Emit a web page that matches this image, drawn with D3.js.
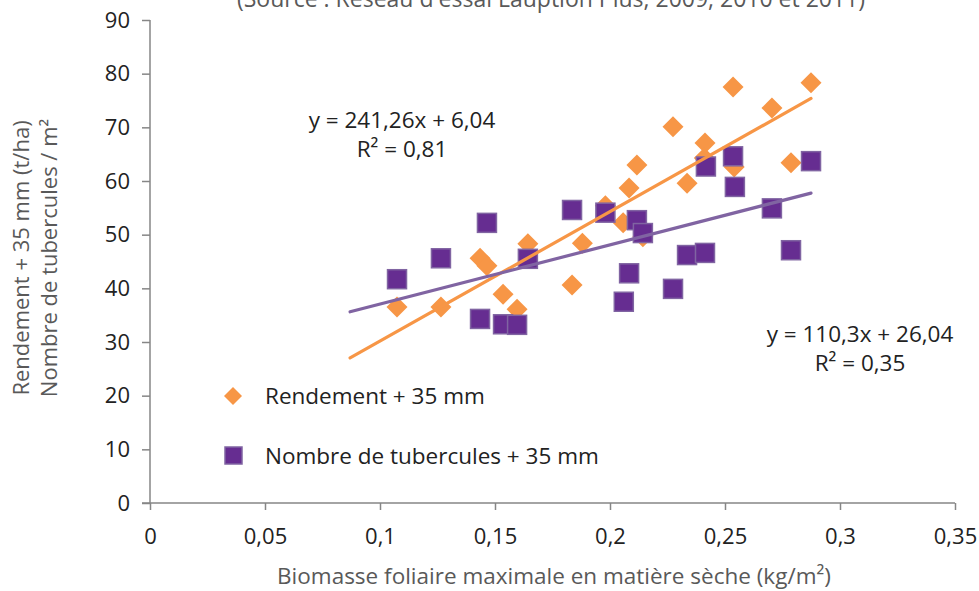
<!DOCTYPE html>
<html><head><meta charset="utf-8">
<script src="https://cdn.jsdelivr.net/npm/d3@7"></script>
<style>body{margin:0;background:#fff}svg{display:block}text{font-family:"Open Sans",sans-serif}</style>
</head><body><svg id="c" width="979" height="591"></svg>
<script>
const xTicks = [0,0.05,0.1,0.15,0.2,0.25,0.3,0.35];
const yTicks = [0,10,20,30,40,50,60,70,80,90];
const rendX = [0.1074,0.1265,0.1435,0.1465,0.1535,0.1596,0.1643,0.1835,0.188,0.198,0.2057,0.2083,0.2117,0.2143,0.2274,0.2335,0.2413,0.241,0.2535,0.254,0.2704,0.2787,0.2874];
const rendY = [36.5,36.5,45.6,44.2,38.9,36.1,48.3,40.6,48.4,55.4,52.2,58.7,63.0,49.6,70.1,59.6,67.1,64.3,77.5,62.6,73.6,63.4,78.3];
const tubX = [0.1074,0.1265,0.1435,0.1465,0.1535,0.1596,0.1643,0.1835,0.198,0.206,0.2083,0.2117,0.2143,0.2274,0.2335,0.2413,0.2417,0.2535,0.2543,0.2704,0.2787,0.2874];
const tubY = [41.7,45.6,34.3,52.2,33.3,33.2,45.5,54.6,54.1,37.5,42.8,52.7,50.3,39.9,46.2,46.6,62.7,64.6,58.9,54.9,47.1,63.7];
const trendRend = {slope:241.26, intercept:6.04, x0:0.087, x1:0.2874};
const trendTub = {slope:110.3, intercept:26.04, x0:0.087, x1:0.2874};
const fmt = v => String(v).replace('.', ',');

const svg = d3.select('#c');
const x = d3.scaleLinear().domain([0,0.35]).range([150,955]);
const y = d3.scaleLinear().domain([0,90]).range([503,20]);
const ORANGE = '#f79646', PURPLE = '#662d91', PURPLE_L = '#8064a2';

// Title (cut off at top, as in the reference)
svg.append('text').attr('x',551).attr('y',7).attr('text-anchor','middle')
  .attr('font-size',23).attr('fill','#595959')
  .text("(Source : Réseau d'essai Lauption Plus, 2009, 2010 et 2011)");

// Axes
const yAxis = svg.append('g').attr('transform','translate(150,0)')
  .call(d3.axisLeft(y).tickValues(yTicks).tickSize(8).tickPadding(12).tickFormat(fmt));
const xAxis = svg.append('g').attr('transform','translate(0,503)')
  .call(d3.axisBottom(x).tickValues(xTicks).tickSize(7).tickPadding(18).tickFormat(fmt));
[yAxis,xAxis].forEach(g=>{
  g.select('.domain').attr('stroke','#868686').attr('stroke-width',1.5);
  g.selectAll('.tick line').attr('stroke','#868686').attr('stroke-width',1.5);
  g.selectAll('.tick text').attr('fill','#222').attr('font-size',22).attr('font-family','"Open Sans",sans-serif');
});
yAxis.select('.domain').attr('d','M0,20V503');
xAxis.select('.domain').attr('d','M142,0H955');

// Axis titles
svg.append('text').attr('transform','translate(29,258) rotate(-90)').attr('text-anchor','middle')
  .attr('font-size',22).attr('fill','#595959').text('Rendement + 35 mm (t/ha)');
svg.append('text').attr('transform','translate(57,258) rotate(-90)').attr('text-anchor','middle')
  .attr('font-size',22).attr('fill','#595959').text('Nombre de tubercules / m²');
svg.append('text').attr('x',554).attr('y',584).attr('text-anchor','middle')
  .attr('font-size',22.5).attr('fill','#595959').text('Biomasse foliaire maximale en matière sèche (kg/m²)');

// Trend lines
function trend(t,color){
  svg.append('line').attr('x1',x(t.x0)).attr('y1',y(t.slope*t.x0+t.intercept))
    .attr('x2',x(t.x1)).attr('y2',y(t.slope*t.x1+t.intercept))
    .attr('stroke',color).attr('stroke-width',3.2).attr('stroke-linecap','round');
}

// Diamonds
const dsz = 10.5;
const diamond = (cx,cy)=>`M${cx},${cy-dsz}L${cx+dsz},${cy}L${cx},${cy+dsz}L${cx-dsz},${cy}Z`;
svg.append('g').selectAll('path').data(rendX.map((v,i)=>[v,rendY[i]])).join('path')
  .attr('d',d=>diamond(x(d[0]),y(d[1]))).attr('fill',ORANGE);
// Squares
const ssz = 19;
svg.append('g').selectAll('rect').data(tubX.map((v,i)=>[v,tubY[i]])).join('rect')
  .attr('x',d=>x(d[0])-ssz/2).attr('y',d=>y(d[1])-ssz/2).attr('width',ssz).attr('height',ssz)
  .attr('fill',PURPLE).attr('stroke',PURPLE_L).attr('stroke-width',1.5);

trend(trendRend, ORANGE);
trend(trendTub, PURPLE_L);

// Equations
const eq = (cx,cy,l1,l2)=>{
  svg.append('text').attr('x',cx).attr('y',cy).attr('text-anchor','middle').attr('font-size',22.5).attr('fill','#222').text(l1);
  svg.append('text').attr('x',cx).attr('y',cy+29).attr('text-anchor','middle').attr('font-size',22.5).attr('fill','#222').text(l2);
};
eq(402,128,'y = 241,26x + 6,04','R² = 0,81');
eq(860,342,'y = 110,3x + 26,04','R² = 0,35');

// Legend
svg.append('path').attr('d',`M233,387L242,396L233,405L224,396Z`).attr('fill',ORANGE);
svg.append('text').attr('x',265).attr('y',404).attr('font-size',22.5).attr('fill','#222').text('Rendement + 35 mm');
svg.append('rect').attr('x',225).attr('y',447).attr('width',17).attr('height',17).attr('fill',PURPLE).attr('stroke',PURPLE_L).attr('stroke-width',1.5);
svg.append('text').attr('x',265).attr('y',464).attr('font-size',22.5).attr('fill','#222').text('Nombre de tubercules + 35 mm');
</script></body></html>
